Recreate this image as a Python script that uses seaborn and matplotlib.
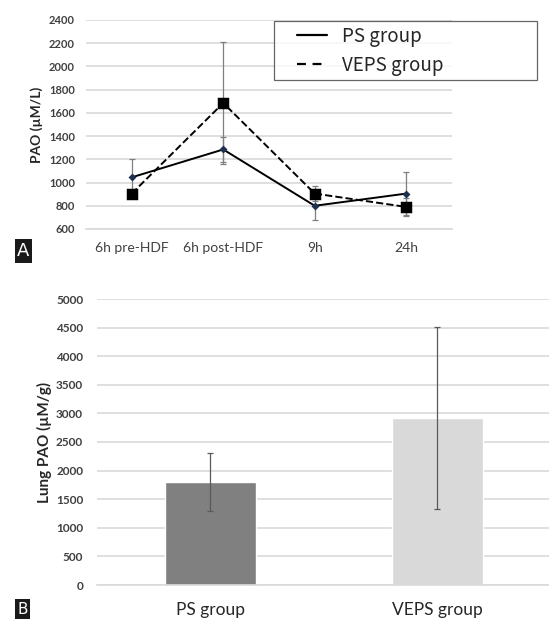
import matplotlib
matplotlib.use("Agg")
import matplotlib.pyplot as plt
import seaborn as sns
import pandas as pd
import numpy as np
from matplotlib.lines import Line2D
from matplotlib.legend_handler import HandlerLine2D

# ---- data ----
timepoints = ["6h pre-HDF", "6h post-HDF", "9h", "24h"]
ps_mean = [1045, 1285, 800, 905]
ps_err = [160, 105, 120, 185]
veps_mean = [905, 1685, 905, 790]
veps_err = [30, 525, 65, 80]

groups = ["PS group", "VEPS group"]
lung_mean = [1800, 2920]
lung_err = [510, 1590]

sns.set_theme(style="white")
plt.rcParams['font.family'] = ['Lato', 'DejaVu Sans']

fig = plt.figure(figsize=(5.49, 6.2), dpi=100)
W, H = 549, 620

def ax_rect(l, t, r, b):
    return [l / W, 1 - b / H, (r - l) / W, (b - t) / H]

grid_c = "#d9d9d9"
tick_c = "#404040"

# ---- panel A ----
ax1 = fig.add_axes(ax_rect(86, 20, 452, 229))
df = pd.DataFrame({
    "time": timepoints * 2,
    "value": ps_mean + veps_mean,
    "group": ["PS group"] * 4 + ["VEPS group"] * 4,
})
sns.pointplot(data=df, x="time", y="value", hue="group", ax=ax1,
              palette=["black", "black"], markers=["D", "s"],
              linestyles=["-", "--"], errorbar=None, legend=False,
              markersize=5, linewidth=1.4)
xs = np.arange(len(timepoints))
ax1.errorbar(xs, ps_mean, yerr=ps_err, fmt="none", ecolor="#7f7f7f",
             elinewidth=0.9, capsize=2, capthick=0.9, zorder=1)
ax1.errorbar(xs, veps_mean, yerr=veps_err, fmt="none", ecolor="#7f7f7f",
             elinewidth=0.9, capsize=2, capthick=0.9, zorder=1)
for ln in ax1.lines:
    if ln.get_marker() == "D":
        ln.set_markerfacecolor("#1f3050")
        ln.set_markeredgecolor("#1f3050")
        ln.set_markersize(3)
        ln.set_zorder(3)
    elif ln.get_marker() == "s":
        ln.set_markersize(7)
        ln.set_zorder(3)
ax1.set_ylim(600, 2400)
ax1.set_xlim(-0.5, 3.5)
ax1.set_yticks(range(600, 2401, 200))
ax1.yaxis.grid(True, color=grid_c, linewidth=1.2)
ax1.set_axisbelow(True)
for s in ["top", "right", "left"]:
    ax1.spines[s].set_visible(False)
ax1.spines["bottom"].set_color(grid_c)
ax1.spines["bottom"].set_linewidth(1.2)
ax1.tick_params(axis="both", length=0)
ax1.tick_params(axis="y", labelsize=8, colors=tick_c, pad=8)
ax1.tick_params(axis="x", labelsize=10, colors=tick_c, pad=9)
for t in ax1.get_yticklabels():
    t.set_fontweight("bold")
ax1.set_xlabel("")
ax1.set_ylabel("PAO (µM/L)", fontsize=10, fontweight="bold", color="#262626", labelpad=4)

handles = [Line2D([0], [0], color="black", lw=1.6, ls="-"),
           Line2D([0], [0], color="black", lw=1.6, ls=(0, (4, 3)))]
hmap = {h: HandlerLine2D(xpad=1.0) for h in handles}
leg = fig.legend(handles, groups, loc="upper left",
                 bbox_to_anchor=(274 / W, 1 - 77 / H, 263 / W, 56 / H),
                 mode="expand", fancybox=False, handler_map=hmap,
                 frameon=True, handlelength=2.6,
                 borderpad=0.25, labelspacing=0.42, handletextpad=0.8,
                 borderaxespad=0,
                 prop={"family": ["Noto Sans CJK JP", "DejaVu Sans"], "size": 13.5})
leg.get_frame().set_edgecolor("#404040")
leg.get_frame().set_linewidth(0.9)

fig.text(23.5 / W, 1 - 251 / H, "A", color="white", fontsize=13,
         ha="center", va="center", family="DejaVu Sans",
         bbox=dict(boxstyle="square,pad=0.15", facecolor="#1a1a1a", edgecolor="none"))

# ---- panel B ----
ax2 = fig.add_axes(ax_rect(97, 299, 551, 585))
dfb = pd.DataFrame({"group": groups, "value": lung_mean})
sns.barplot(data=dfb, x="group", y="value", hue="group", ax=ax2,
            palette=["#808080", "#d9d9d9"], width=0.4, legend=False,
            errorbar=None, saturation=1)
ax2.errorbar(np.arange(2), lung_mean, yerr=lung_err, fmt="none",
             ecolor="#595959", elinewidth=0.9, capsize=2, capthick=0.9)
ax2.set_ylim(0, 5000)
ax2.set_xlim(-0.5, 1.5)
ax2.set_yticks(range(0, 5001, 500))
ax2.yaxis.grid(True, color=grid_c, linewidth=1.2)
ax2.set_axisbelow(True)
for s in ["top", "right", "left"]:
    ax2.spines[s].set_visible(False)
ax2.spines["bottom"].set_color(grid_c)
ax2.spines["bottom"].set_linewidth(1.2)
ax2.tick_params(axis="both", length=0)
ax2.tick_params(axis="y", labelsize=8.5, colors=tick_c, pad=10)
ax2.tick_params(axis="x", labelsize=12.5, colors="#262626", pad=12)
for t in ax2.get_yticklabels():
    t.set_fontweight("bold")
ax2.set_xlabel("")
ax2.set_ylabel("Lung PAO (µM/g)", fontsize=11, fontweight="bold", color="#262626", labelpad=3)

fig.text(22.5 / W, 1 - 609 / H, "B", color="white", fontsize=11,
         ha="center", va="center", family="DejaVu Sans",
         bbox=dict(boxstyle="square,pad=0.15", facecolor="#1a1a1a", edgecolor="none"))

fig.savefig("out.png", dpi=100)
